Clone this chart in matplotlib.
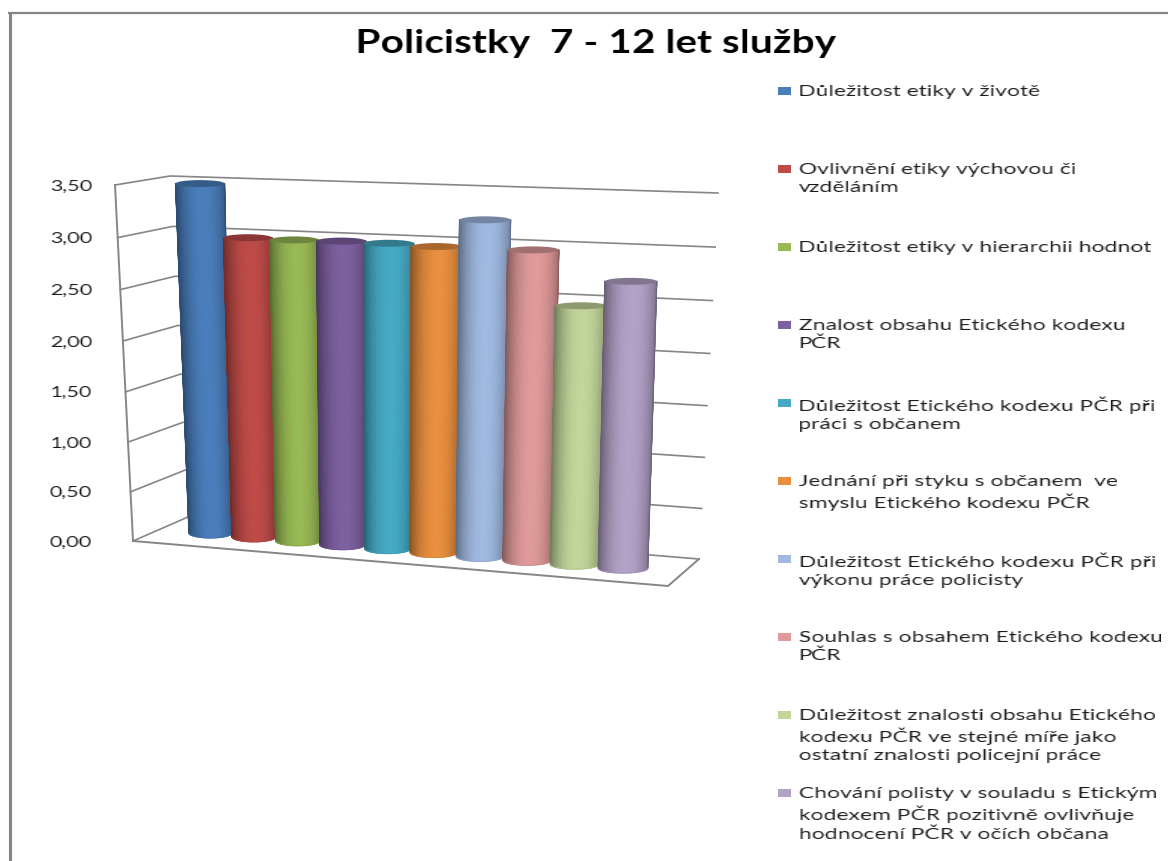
#!/usr/bin/env python3
# -*- coding: utf-8 -*-
"""Policistky 7 - 12 let sluzby: fake 3D cylinder chart drawn on a pixel sized axes."""

import matplotlib
matplotlib.use('Agg')
import matplotlib.pyplot as plt
import numpy as np
from matplotlib.colors import LinearSegmentedColormap, to_rgb
from matplotlib.patches import Ellipse, Rectangle

title = 'Policistky  7 - 12 let služby'
labels = [
    'Důležitost etiky v životě',
    'Ovlivnění etiky výchovou či\nvzděláním',
    'Důležitost etiky v hierarchii hodnot',
    'Znalost obsahu Etického kodexu\nPČR',
    'Důležitost Etického kodexu PČR při\npráci s občanem',
    'Jednání při styku s občanem  ve\nsmyslu Etického kodexu PČR',
    'Důležitost Etického kodexu PČR při\nvýkonu práce policisty',
    'Souhlas s obsahem Etického kodexu\nPČR',
    'Důležitost znalosti obsahu Etického\nkodexu PČR ve stejné míře jako\nostatní znalosti policejní práce',
    'Chování polisty v souladu s Etickým\nkodexem PČR pozitivně ovlivňuje\nhodnocení PČR v očích občana',
]
values = [3.48, 2.98, 2.98, 2.99, 2.99, 2.98, 3.25, 2.99, 2.49, 2.74]
colors = ['#4A7EBB', '#BE4B48', '#98B954', '#7D60A0', '#46AAC5',
          '#E98F3F', '#A0B9E0', '#E09A9A', '#C2D69B', '#B3A2C7']
ticks = [0.0, 0.5, 1.0, 1.5, 2.0, 2.5, 3.0, 3.5]
tick_labels = ['0,00', '0,50', '1,00', '1,50', '2,00', '2,50', '3,00', '3,50']

VMAX = 3.5
GRID = '#868686'


def height_frac(v):
    # slight perspective on the value axis
    s = np.asarray(v) / VMAX
    return 0.961 * s / (1 - 0.039 * s)


def lerp(a, b, t):
    return (1 - t) * np.asarray(a, float) + t * np.asarray(b, float)


# box corners in pixels, bottom and top at VMAX
front_left = ((133, 541), (115, 185))
back_left = ((188, 517), (170, 176))
back_right = ((699, 559), (718, 193))


def on_edge(edge, v):
    return lerp(edge[0], edge[1], height_frac(v))


def stretch(factor, anchor=0.0):
    # the original picture is a screenshot pulled wider, so widen the drawn text too
    def _filter(img, dpi):
        h, w = img.shape[:2]
        new_w = int(round(w * factor))
        xs = np.linspace(0, w - 1, new_w)
        idx = np.arange(w)
        out = np.zeros((h, new_w, 4))
        for row in range(h):
            for ch in range(4):
                out[row, :, ch] = np.interp(xs, idx, img[row, :, ch])
        return out, -anchor * (new_w - w), 0
    return _filter


def cylinder(ax, i, v, color):
    base = np.array([210.5 + 43.08 * i + 0.306 * i ** 2, 533 + 3.9 * i])
    top_max = np.array([200 + 46.5 * i + 0.18 * i ** 2, 181.5 + 1.9 * i])
    s = height_frac(v)
    top = lerp(base, top_max, s)
    r_base = 21.5 + 0.35 * i
    r_top = lerp(r_base, 24.5 + 0.2 * i, s)
    ry_base, ry_top = 5.0, 3.5
    rgb = np.array(to_rgb(color))

    cmap = LinearSegmentedColormap.from_list('cyl', [rgb * 0.6, rgb])
    theta = np.linspace(np.pi, 0, 61)
    p = (1 + np.cos(theta)) / 2
    # dark toward both sides, flat light band a bit right of the middle
    shade = np.clip(1 - (np.abs(p - 0.55) / 0.55) ** 2.2, 0, 1)
    rows = np.linspace(0, 1, 12)[:, None]
    X = (1 - rows) * (top[0] + r_top * np.cos(theta)) + rows * (base[0] + r_base * np.cos(theta))
    Y = (1 - rows) * (top[1] + ry_top * np.sin(theta)) + rows * (base[1] + ry_base * np.sin(theta))
    C = np.tile(shade, (len(rows), 1))
    z = 3 + i * 0.1
    ax.pcolormesh(X, Y, C, cmap=cmap, vmin=0, vmax=1, shading='gouraud', zorder=z)
    # antialiased side lines and bottom rim hide the jagged mesh edge
    ax.plot(X[:, 0], Y[:, 0], color=rgb * 0.6, lw=1.0, alpha=0.8, zorder=z)
    ax.plot(X[:, -1], Y[:, -1], color=rgb * 0.6, lw=1.0, alpha=0.8, zorder=z)
    ax.plot(X[-1], Y[-1], color=rgb * 0.92, lw=0.8, alpha=0.7, zorder=z)
    ax.add_patch(Ellipse(top, 2 * r_top, 2 * ry_top, facecolor=rgb * 0.72,
                         edgecolor='none', zorder=z + 0.01))


fig = plt.figure(figsize=(11.68, 8.61), dpi=100)
ax = fig.add_axes([0, 0, 1, 1])
ax.set_xlim(0, 1168)
ax.set_ylim(861, 0)
ax.axis('off')

# chart border, only left and top end up inside the picture
ax.plot([9.5, 9.5], [13, 861], color='#858585', lw=2.2, solid_capstyle='butt')
ax.plot([8, 1168], [13, 13], color='#858585', lw=1.6, solid_capstyle='butt')

# gridlines on side wall and back wall, with value labels
for t, lab in zip(ticks, tick_labels):
    p0 = on_edge(front_left, t)
    p1 = on_edge(back_left, t)
    p2 = on_edge(back_right, t)
    ax.plot([p0[0], p1[0], p2[0]], [p0[1], p1[1], p2[1]], color=GRID, lw=1.2, zorder=1)
    tx = ax.text(92, p0[1] + 1.5, lab, ha='right', va='center', fontsize=11,
                 family='Lato', color='#1a1a1a')
    tx.set_agg_filter(stretch(1.4, anchor=1.0))

# left axis and floor
pa, pb = on_edge(front_left, 0), on_edge(front_left, VMAX)
ax.plot([pa[0], pb[0]], [pa[1], pb[1]], color=GRID, lw=1.4, zorder=1)
floor = np.array([on_edge(front_left, 0), (668, 586), on_edge(back_right, 0)])
ax.plot(floor[:, 0], floor[:, 1], color=GRID, lw=1.4, zorder=1)

for i, (v, c) in enumerate(zip(values, colors)):
    cylinder(ax, i, v, c)

tx = ax.text(595, 43, title, ha='center', va='center', fontsize=23, fontweight='bold',
             family='Lato', color='black')
tx.set_agg_filter(stretch(1.268, anchor=0.5))

# legend, every entry on a fixed 78 px step
for i, (lab, c) in enumerate(zip(labels, colors)):
    y = 91 + 78 * i
    ax.add_patch(Rectangle((778, y - 4), 13, 8, facecolor=c, edgecolor='none'))
    tx = ax.text(799, y - 6, lab, ha='left', va='top', fontsize=11, family='Lato',
                 color='#1a1a1a', linespacing=1.33)
    tx.set_agg_filter(stretch(1.5))

fig.savefig('out.png', dpi=100)
